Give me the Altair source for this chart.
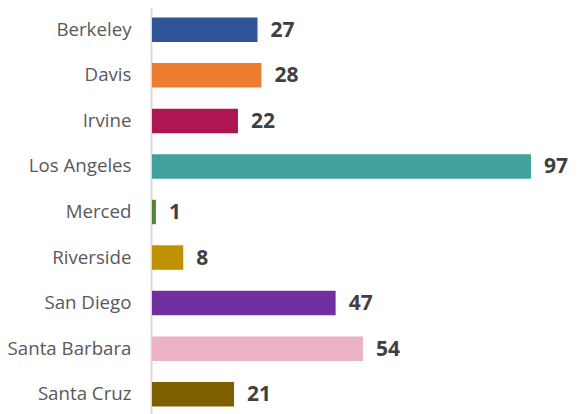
import altair as alt
import pandas as pd

campuses = ["Berkeley", "Davis", "Irvine", "Los Angeles", "Merced",
            "Riverside", "San Diego", "Santa Barbara", "Santa Cruz"]
values = [27, 28, 22, 97, 1, 8, 47, 54, 21]
colors = ["#2E5597", "#ED7D31", "#AD1650", "#42A19B", "#548235",
          "#BF9000", "#7030A0", "#ECB3C4", "#7F6000"]

df = pd.DataFrame({"campus": campuses, "value": values})

y = alt.Y("campus:N", sort=campuses,
          scale=alt.Scale(paddingInner=0.463, paddingOuter=0.21),
          axis=alt.Axis(title=None, ticks=False, grid=False, domain=True,
                        domainColor="#d9d9d9", domainWidth=2, offset=1,
                        labelPadding=20, labelFontSize=18.7, labelFont="Open Sans",
                        labelColor="#595959"))

x = alt.X("value:Q", scale=alt.Scale(domain=[0, 97], nice=False), axis=None)

bars = alt.Chart(df).mark_bar().encode(
    y=y, x=x,
    color=alt.Color("campus:N", scale=alt.Scale(domain=campuses, range=colors), legend=None),
)

labels = alt.Chart(df).mark_text(
    align="left", baseline="middle", dx=13, dy=1, fontSize=21, fontWeight="bold",
    font="Open Sans", color="#404040"
).encode(y=alt.Y("campus:N", sort=campuses), x=x, text="value:Q")

chart = alt.layer(bars, labels).properties(
    width=379, height=408,
    autosize=alt.AutoSizeParams(type="none"),
    padding={"left": 144, "top": 0, "right": 39, "bottom": 0},
).configure_view(stroke=None)

chart.save("out.html", embed_options={"renderer": "svg", "actions": False})
